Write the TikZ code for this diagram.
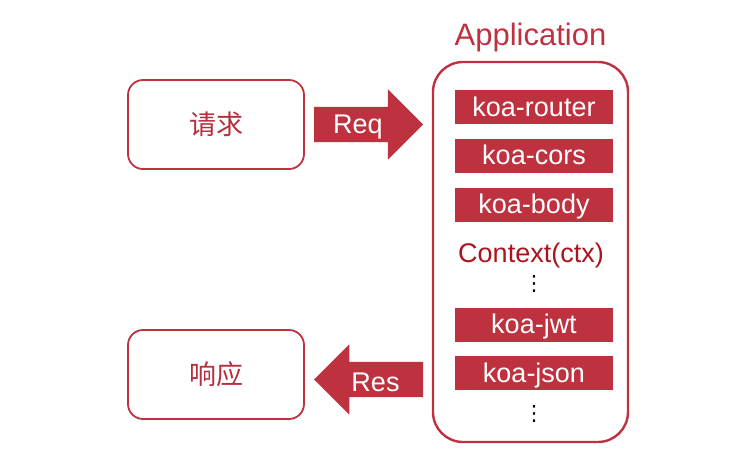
\documentclass[tikz,border=0pt]{standalone}
\usepackage{fontspec}
\setmainfont{Liberation Sans}
\newfontfamily\cjkfont{Noto Sans CJK SC}
\newfontfamily\dotsfont{DejaVu Sans}
\usetikzlibrary{shapes.arrows, positioning}
\definecolor{rojo}{RGB}{190,50,64}
\definecolor{rojoosc}{RGB}{170,20,30}

\begin{document}
\begin{tikzpicture}[
  x=1pt, y=-1pt,
  node distance=14.5pt,
  caja/.style={draw=rojo, line width=1.8pt, rounded corners=15pt,
               minimum width=176pt, minimum height=89pt,
               font=\cjkfont\fontsize{27}{30}\selectfont, text=rojo!95!black},
  app/.style={draw=rojo, line width=2.4pt, rounded corners=30pt,
              minimum width=195pt, minimum height=380pt},
  mw/.style={fill=rojo, text=white, minimum width=158pt, minimum height=34pt,
             inner sep=0pt, text height=18pt, text depth=0pt,
             font=\fontsize{27}{30}\selectfont},
  fat/.style={single arrow, fill=rojo, inner sep=17.5pt,
              single arrow head extend=17.5pt, single arrow head indent=0pt,
              minimum height=109pt},
  lbl/.style={text=white, inner sep=0pt, font=\fontsize{27}{30}\selectfont},
  vdot/.style={inner sep=0pt, font=\dotsfont\fontsize{21}{21}\selectfont},
]
  \useasboundingbox (0,0) rectangle (753,467);

  % cliente
  \node[caja] (qiu) at (216,124.5) {请求};
  \node[caja] (ying) at (216,374.5) {响应};

  % aplicacion
  \node[app] (app) at (530.5,252) {};
  \node[text=rojo, inner sep=0pt, anchor=base, font=\fontsize{31}{34}\selectfont]
    (title) at (530.5,45) {Application};
  \node[mw] (router) at (534,107) {koa-router};
  \node[mw, below=of router] (cors) {koa-cors};
  \node[mw, below=of cors] (body) {koa-body};
  \node[text=rojoosc, inner sep=0pt, anchor=base, font=\fontsize{27}{30}\selectfont]
    (ctx) at (531,262) {Context(ctx)};
  \node[vdot] (dots1) at (534,284) {⋮};
  \node[mw] (jwt) at (534,324.5) {koa-jwt};
  \node[mw, below=of jwt] (json) {koa-json};
  \node[vdot] (dots2) at (534,413.5) {⋮};

  % flechas
  \node[fat, anchor=tail] (req) at ([xshift=9pt]qiu.east) {};
  \node[lbl, anchor=base] (reqtxt) at (358,133) {Req};
  \node[fat, shape border rotate=180, anchor=tip] (res) at ([xshift=9pt,yshift=-5pt]ying.east) {};
  \node[lbl, anchor=base] (restxt) at (375.5,391) {Res};
\end{tikzpicture}
\end{document}
